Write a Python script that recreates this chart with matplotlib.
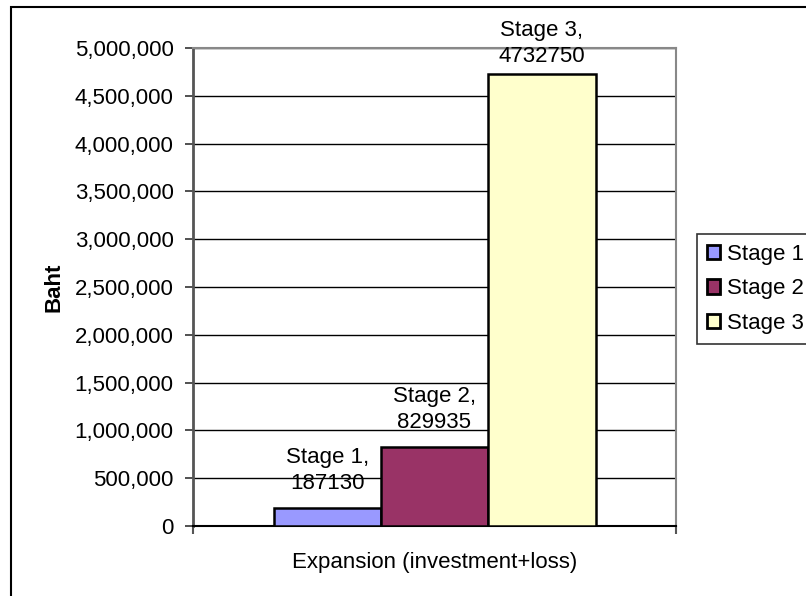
import matplotlib.pyplot as plt
from matplotlib.patches import Rectangle
from matplotlib.ticker import FuncFormatter

# expansion cost per stage (baht)
stages = ["Stage 1", "Stage 2", "Stage 3"]
values = [187130, 829935, 4732750]
colors = ["#9999FF", "#993366", "#FFFFCC"]
category = "Expansion (investment+loss)"

plt.rcParams["font.family"] = ["Liberation Sans", "DejaVu Sans"]
plt.rcParams["font.size"] = 16

W, H = 806, 596
fig = plt.figure(figsize=(W / 100, H / 100), dpi=100)

# outer chart frame (left/top edges visible, rest runs off the page)
fig.patches.append(Rectangle((11 / W, -0.1), 1.2, 1.1 - 7 / H, transform=fig.transFigure,
                             fill=False, edgecolor="black", lw=1.5, zorder=0))

ax = fig.add_axes([193 / W, (H - 526) / H, 483 / W, 478 / H])

bar_w = 1 / 4.5
for i, (name, val, col) in enumerate(zip(stages, values, colors)):
    x = (i - 1) * bar_w
    ax.bar(x, val, width=bar_w, color=col, edgecolor="black", lw=1.8, label=name, zorder=3)
    # keep the label inside the plot when the bar is tall
    off = 10 if val < 4.5e6 else 5
    ax.annotate(f"{name},\n{val}", (x, val), xytext=(0, off), textcoords="offset points",
                ha="center", va="bottom", linespacing=1.3, zorder=4)

ax.set_xlim(-0.5, 0.5)
ax.set_ylim(0, 5_000_000)
ax.set_yticks(range(0, 5_000_001, 500_000))
ax.yaxis.set_major_formatter(FuncFormatter(lambda v, p: f"{int(v):,}"))
ax.grid(axis="y", color="black", lw=1.0, zorder=1)

ax.set_xticks([-0.5, 0.5])
ax.set_xticklabels(["", ""])
ax.tick_params(axis="x", length=6, width=1.5, color="#555555")
ax.tick_params(axis="y", length=6, width=1.2, pad=8, color="#333333")

for side in ("top", "right"):
    ax.spines[side].set_color("#888888")
    ax.spines[side].set_linewidth(1.5)
ax.spines["left"].set_color("#555555")
ax.spines["left"].set_linewidth(2)
ax.spines["bottom"].set_color("black")
ax.spines["bottom"].set_linewidth(1.5)

ax.set_xlabel(category, labelpad=9)
ax.set_ylabel("Baht", fontweight="bold", labelpad=7)

leg = ax.legend(loc="upper left", bbox_to_anchor=(697 / W, 1 - 234 / H),
                bbox_transform=fig.transFigure, borderaxespad=0, fancybox=False,
                frameon=True, edgecolor="black", handlelength=0.6, handleheight=0.6,
                handletextpad=0.3, labelspacing=0.6, borderpad=0.45)
leg.get_frame().set_linewidth(1.2)
for h in leg.legend_handles:
    h.set_linewidth(2)

fig.savefig("out.png", dpi=100)
